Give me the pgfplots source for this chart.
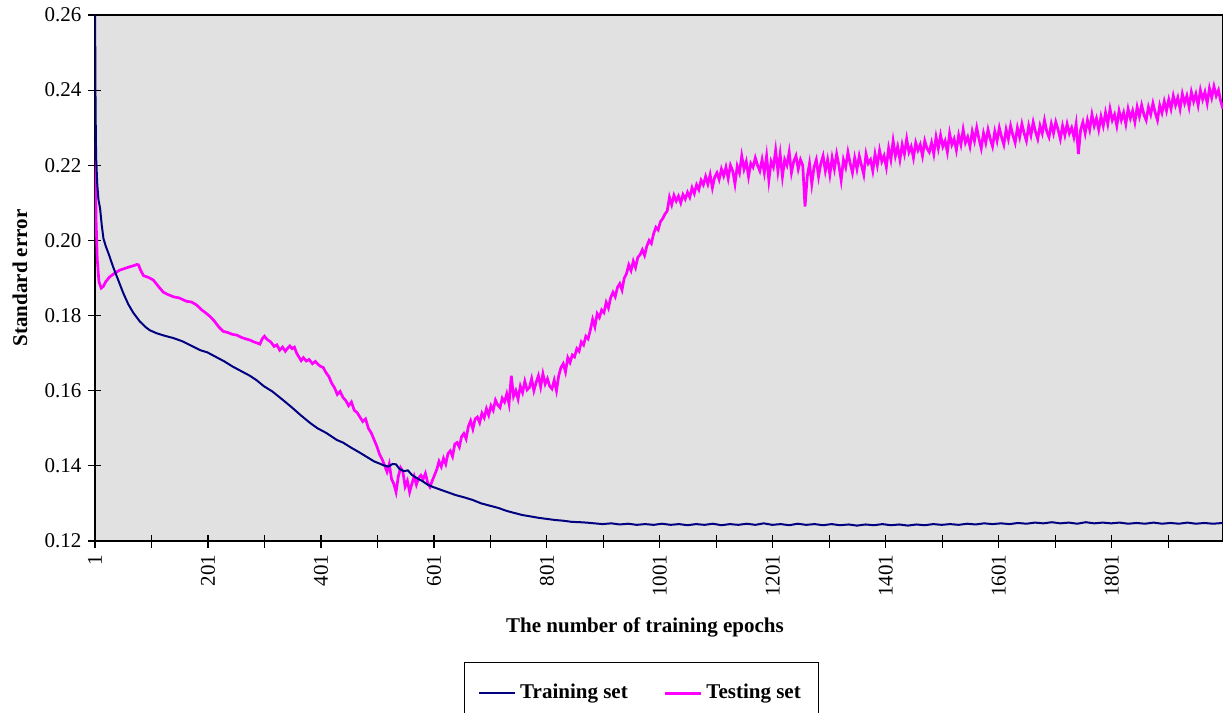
\documentclass[border=0pt]{standalone}
\usepackage{pgfplots}
\pgfplotsset{compat=1.18}
\usepackage{fontspec}
\setmainfont{Liberation Serif}

\definecolor{trainblue}{RGB}{0,0,128}
\definecolor{testpink}{RGB}{255,0,255}
\definecolor{plotbg}{RGB}{225,225,225}

\begin{document}
\begin{tikzpicture}[font=\fontsize{10.5}{12.6}\selectfont]
\begin{axis}[
  scale only axis,
  width=564pt, height=263pt,
  xmin=1, xmax=1998,
  ymin=0.12, ymax=0.26,
  axis background/.style={fill=plotbg},
  axis line style={black, line width=0.7pt},
  xtick={1,201,401,601,801,1001,1201,1401,1601,1801},
  minor xtick={101,301,501,701,901,1101,1301,1501,1701,1901},
  ytick={0.12,0.14,0.16,0.18,0.20,0.22,0.24,0.26},
  xtick pos=left, ytick pos=left,
  tick align=center,
  major tick length=6.5pt, minor tick length=6.5pt,
  every tick/.style={black, line width=0.6pt},
  /pgf/number format/assume math mode=true,
  xticklabel style={rotate=90, anchor=east, /pgf/number format/1000 sep={}},
  yticklabel style={/pgf/number format/fixed, /pgf/number format/precision=2,
    /pgf/number format/fixed zerofill},
  scaled y ticks=false,
  xlabel={\bfseries The number of training epochs},
  ylabel={\bfseries Standard error},
  xlabel style={at={(axis description cs:0.4876,-0.1635)}, anchor=center},
  ylabel style={at={(axis description cs:-0.0665,0.5)}, anchor=center},
  legend columns=2,
  reverse legend,
  legend style={at={(axis description cs:0.4845,-0.230)}, anchor=north,
    draw=black, fill=white, font=\fontsize{10.5}{12.6}\selectfont\bfseries,
    inner xsep=7pt, inner ysep=9pt,
    /tikz/every even column/.append style={column sep=16pt}},
  legend image code/.code={\draw[#1] (0pt,0pt) -- (18pt,0pt);},
]
\addplot[testpink, line width=1.35pt] coordinates {
(1,0.2260) (3,0.2050) (5,0.1950) (8,0.1890) (12,0.1873) (16,0.1878) (20,0.1890) (27,0.1903)
(35,0.1912) (45,0.1921) (55,0.1926) (63,0.1930) (70,0.1933) (75,0.1936) (78,0.1935) (82,0.1920)
(87,0.1906) (95,0.1902) (104,0.1895) (112,0.1880) (122,0.1862) (130,0.1856) (140,0.1850) (150,0.1847)
(163,0.1838) (172,0.1836) (181,0.1828) (190,0.1815) (198,0.1806) (205,0.1797) (212,0.1786) (220,0.1770)
(228,0.1758) (236,0.1755) (244,0.1750) (252,0.1748) (260,0.1742) (268,0.1738) (275,0.1735) (282,0.1730)
(288,0.1727) (293,0.1724) (297,0.1738) (301,0.1745) (306,0.1736) (312,0.1730) (318,0.1718) (323,0.1722)
(328,0.1708) (333,0.1716) (338,0.1705) (342,0.1713) (346,0.1719) (350,0.1712) (354,0.1716) (358,0.1700)
(362,0.1690) (366,0.1680) (370,0.1688) (375,0.1679) (380,0.1683) (386,0.1672) (391,0.1678) (396,0.1670)
(400,0.1665) (405,0.1662) (410,0.1648) (415,0.1638) (420,0.1620) (425,0.1608) (430,0.1590) (435,0.1598)
(440,0.1582) (445,0.1574) (450,0.1560) (455,0.1570) (460,0.1548) (465,0.1542) (470,0.1530) (475,0.1518)
(480,0.1525) (485,0.1500) (490,0.1488) (495,0.1470) (500,0.1452) (505,0.1430) (510,0.1415) (514,0.1400)
(518,0.1384) (522,0.1405) (526,0.1365) (530,0.1352) (534,0.1330) (538,0.1372) (542,0.1395) (546,0.1385)
(550,0.1345) (554,0.1360) (558,0.1330) (562,0.1352) (566,0.1372) (570,0.1350) (574,0.1368) (578,0.1375)
(582,0.1365) (586,0.1380) (590,0.1355) (594,0.1344) (598,0.1360) (602,0.1375) (606,0.1390) (610,0.1412)
(614,0.1398) (618,0.1420) (622,0.1405) (626,0.1433) (630,0.1440) (634,0.1425) (638,0.1458) (642,0.1462)
(646,0.1450) (650,0.1478) (654,0.1486) (658,0.1472) (662,0.1505) (666,0.1520) (670,0.1498) (674,0.1525)
(678,0.1530) (682,0.1515) (686,0.1540) (690,0.1528) (694,0.1552) (698,0.1535) (702,0.1560) (706,0.1548)
(710,0.1575) (714,0.1562) (718,0.1555) (722,0.1580) (726,0.1570) (730,0.1592) (734,0.1565) (738,0.1640)
(742,0.1585) (746,0.1600) (750,0.1578) (754,0.1612) (758,0.1595) (762,0.1625) (766,0.1602) (770,0.1608)
(774,0.1632) (778,0.1600) (782,0.1622) (786,0.1640) (790,0.1610) (794,0.1645) (798,0.1618) (802,0.1632)
(806,0.1612) (810,0.1605) (814,0.1628) (818,0.1600) (822,0.1640) (826,0.1662) (830,0.1672) (834,0.1650)
(838,0.1688) (842,0.1675) (846,0.1695) (850,0.1690) (854,0.1712) (858,0.1705) (862,0.1730) (866,0.1722)
(870,0.1745) (874,0.1738) (878,0.1762) (882,0.1790) (886,0.1770) (890,0.1805) (894,0.1795) (898,0.1815)
(902,0.1808) (906,0.1835) (910,0.1820) (914,0.1848) (918,0.1862) (922,0.1850) (926,0.1875) (930,0.1885)
(934,0.1868) (938,0.1900) (942,0.1912) (946,0.1935) (950,0.1920) (954,0.1945) (958,0.1928) (962,0.1955)
(966,0.1962) (970,0.1975) (974,0.1960) (978,0.1985) (982,0.2000) (986,0.1992) (990,0.2018) (994,0.2035)
(998,0.2028) (1002,0.2050) (1006,0.2058) (1010,0.2070) (1014,0.2078) (1018,0.2115) (1022,0.2095) (1026,0.2120)
(1030,0.2105) (1034,0.2118) (1038,0.2100) (1042,0.2122) (1046,0.2110) (1050,0.2128) (1054,0.2115) (1058,0.2140)
(1062,0.2125) (1066,0.2148) (1070,0.2135) (1074,0.2160) (1078,0.2148) (1082,0.2170) (1086,0.2150) (1090,0.2175)
(1094,0.2140) (1098,0.2168) (1102,0.2180) (1106,0.2162) (1110,0.2190) (1114,0.2172) (1118,0.2195) (1122,0.2165)
(1126,0.2200) (1130,0.2185) (1134,0.2150) (1138,0.2198) (1142,0.2180) (1146,0.2225) (1150,0.2190) (1154,0.2210)
(1158,0.2170) (1162,0.2205) (1166,0.2195) (1170,0.2220) (1174,0.2200) (1178,0.2185) (1182,0.2215) (1186,0.2180)
(1190,0.2225) (1194,0.2160) (1198,0.2210) (1202,0.2195) (1206,0.2240) (1210,0.2185) (1214,0.2230) (1218,0.2170)
(1222,0.2215) (1226,0.2200) (1230,0.2235) (1234,0.2180) (1238,0.2210) (1242,0.2225) (1246,0.2190) (1250,0.2215)
(1254,0.2200) (1258,0.2090) (1262,0.2170) (1266,0.2205) (1270,0.2150) (1274,0.2195) (1278,0.2215) (1282,0.2170)
(1286,0.2205) (1290,0.2225) (1294,0.2185) (1298,0.2215) (1302,0.2175) (1306,0.2220) (1310,0.2190) (1314,0.2230)
(1318,0.2200) (1322,0.2160) (1326,0.2215) (1330,0.2195) (1334,0.2235) (1338,0.2205) (1342,0.2180) (1346,0.2220)
(1350,0.2190) (1354,0.2225) (1358,0.2200) (1362,0.2175) (1366,0.2230) (1370,0.2205) (1374,0.2215) (1378,0.2185)
(1382,0.2230) (1386,0.2200) (1390,0.2240) (1394,0.2210) (1398,0.2225) (1402,0.2195) (1406,0.2245) (1410,0.2215)
(1414,0.2265) (1418,0.2225) (1422,0.2250) (1426,0.2215) (1430,0.2255) (1434,0.2230) (1438,0.2270) (1442,0.2235)
(1446,0.2250) (1450,0.2220) (1454,0.2260) (1458,0.2240) (1462,0.2255) (1466,0.2225) (1470,0.2265) (1474,0.2245)
(1478,0.2235) (1482,0.2260) (1486,0.2230) (1490,0.2275) (1494,0.2245) (1498,0.2280) (1502,0.2250) (1506,0.2265)
(1510,0.2235) (1514,0.2285) (1518,0.2255) (1522,0.2270) (1526,0.2240) (1530,0.2280) (1534,0.2255) (1538,0.2295)
(1542,0.2260) (1546,0.2275) (1550,0.2250) (1554,0.2290) (1558,0.2265) (1562,0.2300) (1566,0.2270) (1570,0.2245)
(1574,0.2285) (1578,0.2260) (1582,0.2295) (1586,0.2270) (1590,0.2250) (1594,0.2290) (1598,0.2265) (1602,0.2300)
(1606,0.2275) (1610,0.2255) (1614,0.2295) (1618,0.2270) (1622,0.2305) (1626,0.2280) (1630,0.2260) (1634,0.2300)
(1638,0.2275) (1642,0.2310) (1646,0.2285) (1650,0.2265) (1654,0.2305) (1658,0.2280) (1662,0.2315) (1666,0.2290)
(1670,0.2270) (1674,0.2305) (1678,0.2285) (1682,0.2320) (1686,0.2290) (1690,0.2275) (1694,0.2310) (1698,0.2285)
(1702,0.2315) (1706,0.2295) (1710,0.2270) (1714,0.2305) (1718,0.2280) (1722,0.2310) (1726,0.2285) (1730,0.2300)
(1734,0.2275) (1738,0.2310) (1742,0.2230) (1746,0.2295) (1750,0.2315) (1754,0.2285) (1758,0.2320) (1762,0.2295)
(1766,0.2335) (1770,0.2305) (1774,0.2325) (1778,0.2295) (1782,0.2330) (1786,0.2305) (1790,0.2340) (1794,0.2310)
(1798,0.2350) (1802,0.2320) (1806,0.2335) (1810,0.2305) (1814,0.2345) (1818,0.2320) (1822,0.2340) (1826,0.2310)
(1830,0.2350) (1834,0.2325) (1838,0.2345) (1842,0.2315) (1846,0.2355) (1850,0.2330) (1854,0.2360) (1858,0.2335)
(1862,0.2320) (1866,0.2355) (1870,0.2335) (1874,0.2365) (1878,0.2340) (1882,0.2320) (1886,0.2360) (1890,0.2340)
(1894,0.2370) (1898,0.2345) (1902,0.2375) (1906,0.2350) (1910,0.2385) (1914,0.2360) (1918,0.2380) (1922,0.2350)
(1926,0.2390) (1930,0.2365) (1934,0.2385) (1938,0.2355) (1942,0.2395) (1946,0.2370) (1950,0.2390) (1954,0.2360)
(1958,0.2400) (1962,0.2375) (1966,0.2395) (1970,0.2365) (1974,0.2405) (1978,0.2380) (1982,0.2410) (1986,0.2385)
(1990,0.2400) (1994,0.2370) (1998,0.2350)
};
\addlegendentry{Testing set}
\addplot[trainblue, line width=1pt] coordinates {
(1,0.2650) (2,0.2350) (3,0.2220) (5,0.2150) (7,0.2110) (10,0.2085) (13,0.2040) (16,0.2005)
(20,0.1985) (25,0.1965) (33,0.1930) (42,0.1895) (51,0.1860) (60,0.1830) (69,0.1807) (80,0.1785)
(90,0.1770) (98,0.1761) (110,0.1753) (125,0.1746) (140,0.1740) (155,0.1732) (170,0.1721) (187,0.1708)
(200,0.1702) (215,0.1690) (230,0.1678) (245,0.1664) (260,0.1652) (275,0.1640) (287,0.1628) (300,0.1612)
(315,0.1598) (334,0.1575) (350,0.1555) (365,0.1535) (382,0.1514) (395,0.1500) (410,0.1488) (429,0.1469)
(440,0.1462) (455,0.1448) (470,0.1435) (482,0.1424) (495,0.1412) (505,0.1406) (511,0.1402) (520,0.1398)
(528,0.1405) (534,0.1404) (540,0.1392) (548,0.1386) (555,0.1388) (562,0.1376) (570,0.1368) (580,0.1360)
(590,0.1350) (599,0.1344) (610,0.1338) (625,0.1330) (640,0.1322) (655,0.1316) (670,0.1309) (685,0.1300)
(700,0.1294) (715,0.1288) (730,0.1280) (745,0.1274) (758,0.1269) (770,0.1266) (785,0.1262) (800,0.1259)
(815,0.1256) (830,0.1254) (845,0.1251) (860,0.1250) (871,0.1249) (885,0.1247) (900,0.1245) (915,0.1247)
(930,0.1244) (945,0.1246) (960,0.1243) (975,0.1245) (990,0.1243) (1005,0.1246) (1020,0.1243) (1035,0.1245)
(1050,0.1242) (1065,0.1245) (1080,0.1243) (1095,0.1246) (1110,0.1242) (1125,0.1245) (1140,0.1243) (1155,0.1246)
(1170,0.1243) (1185,0.1247) (1200,0.1243) (1215,0.1245) (1230,0.1242) (1245,0.1246) (1260,0.1243) (1275,0.1245)
(1290,0.1242) (1305,0.1245) (1320,0.1242) (1335,0.1244) (1350,0.1241) (1365,0.1244) (1380,0.1242) (1395,0.1245)
(1410,0.1242) (1425,0.1244) (1440,0.1241) (1455,0.1244) (1470,0.1242) (1485,0.1245) (1500,0.1243) (1515,0.1245)
(1530,0.1243) (1545,0.1246) (1560,0.1244) (1575,0.1247) (1590,0.1245) (1605,0.1247) (1620,0.1245) (1635,0.1248)
(1650,0.1246) (1665,0.1249) (1680,0.1247) (1695,0.1250) (1710,0.1247) (1725,0.1249) (1740,0.1246) (1755,0.1250)
(1770,0.1247) (1785,0.1249) (1800,0.1247) (1815,0.1249) (1830,0.1246) (1845,0.1248) (1860,0.1246) (1875,0.1249)
(1890,0.1246) (1905,0.1248) (1920,0.1246) (1935,0.1249) (1950,0.1246) (1965,0.1248) (1980,0.1246) (1998,0.1248)
};
\addlegendentry{Training set}
\end{axis}
\pgfresetboundingbox
\useasboundingbox (-47.5pt,-86pt) rectangle (564pt,270.5pt);
\end{tikzpicture}
\end{document}
